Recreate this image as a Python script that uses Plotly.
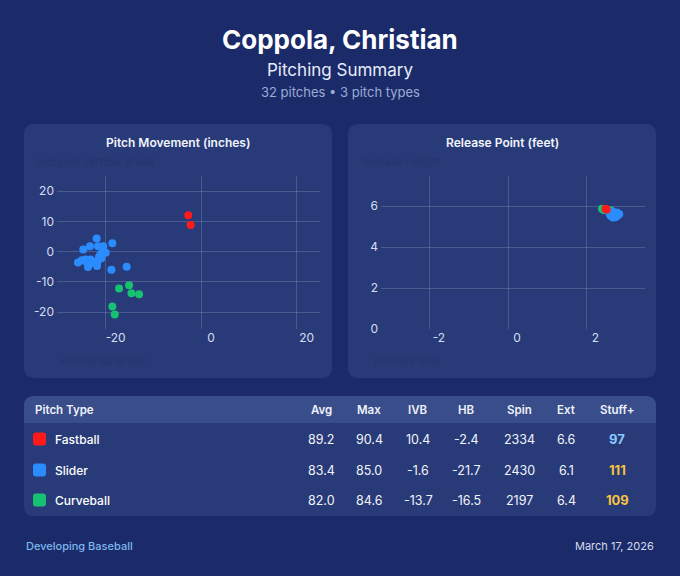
import plotly.graph_objects as go

W, H = 680, 576

# ---------------- data ----------------
pitch_types = ["Fastball", "Slider", "Curveball"]
pitch_colors = ["#ff1a1a", "#2b8cff", "#17c172"]

# movement (inches): horizontal break, induced vertical break
fb_hb = [-2.7, -2.2]
fb_ivb = [12.0, 8.8]
sl_hb = [-21.9, -23.3, -24.7, -21.6, -20.5, -18.6, -20.6, -21.1, -21.4, -21.6, -21.8, -21.8,
         -25.0, -24.1, -23.7, -23.0, -18.8, -15.6, -25.8, -24.2, -23.2, -20.0, -22.2, -20.9]
sl_ivb = [4.3, 1.8, 0.7, 1.8, 1.8, 2.8, 0.1, -1.0, -1.8, -2.9, -4.0, -4.8,
          -2.9, -3.4, -5.1, -3.8, -6.0, -5.0, -3.6, -2.6, -2.6, -0.4, -3.4, -2.2]
cb_hb = [-17.2, -15.1, -14.6, -13.0, -18.6, -18.1]
cb_ivb = [-12.2, -11.1, -13.8, -14.1, -18.2, -20.8]

# release point (feet): side, height
fb_rel_x = [2.49, 2.52]
fb_rel_z = [5.88, 5.84]
sl_rel_x = [2.58, 2.62, 2.66, 2.70, 2.74, 2.78, 2.60, 2.64, 2.68, 2.72, 2.76, 2.80,
            2.62, 2.66, 2.70, 2.74, 2.78, 2.82, 2.68, 2.72, 2.76, 2.64, 2.70, 2.84]
sl_rel_z = [5.72, 5.70, 5.74, 5.68, 5.66, 5.70, 5.62, 5.60, 5.58, 5.62, 5.60, 5.64,
            5.54, 5.52, 5.50, 5.48, 5.52, 5.58, 5.45, 5.46, 5.50, 5.66, 5.56, 5.62]
cb_rel_x = [2.40, 2.43, 2.62, 2.58, 2.66, 2.45]
cb_rel_z = [5.88, 5.85, 5.80, 5.78, 5.76, 5.82]

mov_x_ticks = [-20, 0, 20]
mov_x_labels = ["-20", "0", "20"]
mov_y_ticks = [-20, -10, 0, 10, 20]
mov_y_labels = ["-20", "-10", "0", "10", "20"]
rel_x_ticks = [-2, 0, 2]
rel_x_labels = ["-2", "0", "2"]
rel_y_ticks = [0, 2, 4, 6]
rel_y_labels = ["0", "2", "4", "6"]

table_columns = ["Avg", "Max", "IVB", "HB", "Spin", "Ext", "Stuff+"]
velo_avg = ["89.2", "83.4", "82.0"]
velo_max = ["90.4", "85.0", "84.6"]
ivb_avg = ["10.4", "-1.6", "-13.7"]
hb_avg = ["-2.4", "-21.7", "-16.5"]
spin_avg = ["2334", "2430", "2197"]
ext_avg = ["6.6", "6.1", "6.4"]
stuff_plus = [97, 111, 109]

player = "Coppola, Christian"
subtitle = "Pitching Summary"
meta = "32 pitches • 3 pitch types"
footer_left = "Developing Baseball"
footer_right = "March 17, 2026"

# ---------------- styles ----------------
BG = "#1b2b69"
CARD = "#283b78"
HEADER = "#394d8a"
GRID = "rgba(255,255,255,0.16)"
TICK = "#d6ddf2"
FONT = "Inter"


def px(x):
    return x / W


def py(y):
    return 1 - y / H


def rounded(x0, y0, x1, y1, r, top=True, bottom=True):
    rt = r if top else 0
    rb = r if bottom else 0
    p = []
    p.append(f"M{px(x0 + rt)},{py(y0)}")
    p.append(f"L{px(x1 - rt)},{py(y0)}")
    p.append(f"Q{px(x1)},{py(y0)} {px(x1)},{py(y0 + rt)}")
    p.append(f"L{px(x1)},{py(y1 - rb)}")
    p.append(f"Q{px(x1)},{py(y1)} {px(x1 - rb)},{py(y1)}")
    p.append(f"L{px(x0 + rb)},{py(y1)}")
    p.append(f"Q{px(x0)},{py(y1)} {px(x0)},{py(y1 - rb)}")
    p.append(f"L{px(x0)},{py(y0 + rt)}")
    p.append(f"Q{px(x0)},{py(y0)} {px(x0 + rt)},{py(y0)}")
    p.append("Z")
    return " ".join(p)


fig = go.Figure()

mov = {"Fastball": (fb_hb, fb_ivb), "Slider": (sl_hb, sl_ivb), "Curveball": (cb_hb, cb_ivb)}
rel = {"Fastball": (fb_rel_x, fb_rel_z), "Slider": (sl_rel_x, sl_rel_z), "Curveball": (cb_rel_x, cb_rel_z)}
col = dict(zip(pitch_types, pitch_colors))

for name in ["Curveball", "Slider", "Fastball"]:
    fig.add_trace(go.Scatter(x=mov[name][0], y=mov[name][1], mode="markers", name=name,
                             marker=dict(color=col[name], size=8, line=dict(width=0)),
                             xaxis="x", yaxis="y", showlegend=False))
for name in ["Curveball", "Slider", "Fastball"]:
    fig.add_trace(go.Scatter(x=rel[name][0], y=rel[name][1], mode="markers", name=name,
                             marker=dict(color=col[name], size=8, line=dict(width=0)),
                             xaxis="x2", yaxis="y2", showlegend=False))

axis_common = dict(showgrid=True, gridcolor=GRID, gridwidth=1, zeroline=False, showline=False,
                   ticks="", tickfont=dict(family=FONT, size=12, color=TICK), fixedrange=True,
                   automargin=False)

fig.update_layout(
    width=W, height=H,
    margin=dict(l=0, r=0, t=0, b=0, pad=0, autoexpand=False),
    paper_bgcolor=BG, plot_bgcolor="rgba(0,0,0,0)",
    font=dict(family=FONT, color="white"),
    xaxis=dict(domain=[px(57), px(320)], range=[-30.2, 24.9], tickvals=mov_x_ticks,
               ticktext=mov_x_labels, ticklabelshift=10, anchor="y", **axis_common),
    yaxis=dict(domain=[py(329), py(176)], range=[-25.6, 25.0], tickvals=mov_y_ticks,
               ticktext=mov_y_labels, anchor="x", ticklabelstandoff=2, **axis_common),
    xaxis2=dict(domain=[px(381), px(645)], range=[-3.25, 3.5], tickvals=rel_x_ticks,
                ticktext=rel_x_labels, ticklabelshift=9, anchor="y2", **axis_common),
    yaxis2=dict(domain=[py(329), py(176)], range=[0, 7.48], tickvals=rel_y_ticks,
                ticktext=rel_y_labels, anchor="x2", ticklabelstandoff=2, **axis_common),
)

shapes = []
# cards
shapes.append(dict(type="path", xref="paper", yref="paper", path=rounded(24, 124, 332, 378, 11),
                   fillcolor=CARD, line=dict(width=0), layer="below"))
shapes.append(dict(type="path", xref="paper", yref="paper", path=rounded(348, 124, 656, 378, 11),
                   fillcolor=CARD, line=dict(width=0), layer="below"))
# table
shapes.append(dict(type="path", xref="paper", yref="paper", path=rounded(24, 396, 656, 516, 10),
                   fillcolor=CARD, line=dict(width=0), layer="below"))
shapes.append(dict(type="path", xref="paper", yref="paper",
                   path=rounded(24, 396, 656, 423, 10, top=True, bottom=False),
                   fillcolor=HEADER, line=dict(width=0), layer="below"))

ann = []


def text(x, y, s, size, color, bold=False, xanchor="center", weight=None):
    ann.append(dict(x=px(x), y=py(y), xref="paper", yref="paper", text=s, showarrow=False,
                    xanchor=xanchor, yanchor="middle",
                    font=dict(family=FONT, size=size, color=color,
                              weight=weight if weight else (700 if bold else 400))))


text(340, 40, player, 26, "white", weight=700)
text(340, 70, subtitle, 17, "#e6ebfa")
text(340, 92, meta, 13, "#9babd4")

text(178, 142, "Pitch Movement (inches)", 12, "#f2f4fb", weight=600)
text(502, 142, "Release Point (feet)", 12, "#f2f4fb", weight=600)

FAINT = "#24366f"
text(35, 162, "Induced Vertical Break", 11, FAINT, xanchor="left")
text(58, 361, "Horizontal Break", 11, FAINT, xanchor="left")
text(360, 162, "Release Height", 11, FAINT, xanchor="left")
text(372, 361, "Release Side", 11, FAINT, xanchor="left")

# table header
col_x = [321, 369, 418, 466, 519, 566, 617]
text(33, 410, "Pitch Type", 11.5, "#eef1fa", xanchor="left", weight=600)
for cx, c in zip(col_x, table_columns):
    text(cx, 410, c, 11.5, "#eef1fa", weight=600)

row_y = [439, 470, 500]
stuff_colors = ["#8cc8ff" if s < 100 else "#f6c343" for s in stuff_plus]
for i, name in enumerate(pitch_types):
    yy = row_y[i]
    shapes.append(dict(type="path", xref="paper", yref="paper",
                       path=rounded(33, yy - 6.5, 46, yy + 6.5, 3),
                       fillcolor=pitch_colors[i], line=dict(width=0)))
    text(53, yy, name, 12, "white", xanchor="left", weight=500)
    vals = [velo_avg[i], velo_max[i], ivb_avg[i], hb_avg[i], spin_avg[i], ext_avg[i]]
    for cx, v in zip(col_x[:6], vals):
        text(cx, yy, v, 12.5, "#f2f4fb")
    text(col_x[6], yy, str(stuff_plus[i]), 13, stuff_colors[i], weight=700)

text(24, 546, footer_left, 11, "#7db7ee", xanchor="left", weight=500)
text(656, 546, footer_right, 11, "#d3daef", xanchor="right")

fig.update_layout(shapes=shapes, annotations=ann)

post = (
    "document.documentElement.style.margin='0';"
    "document.documentElement.style.padding='0';"
    "document.documentElement.style.overflow='hidden';"
    "document.body.style.margin='0';"
    "document.body.style.padding='0';"
    "document.body.style.overflow='hidden';"
    "document.body.style.background='" + BG + "';"
)
fig.write_html("out.html", config={"displayModeBar": False}, post_script=post)
